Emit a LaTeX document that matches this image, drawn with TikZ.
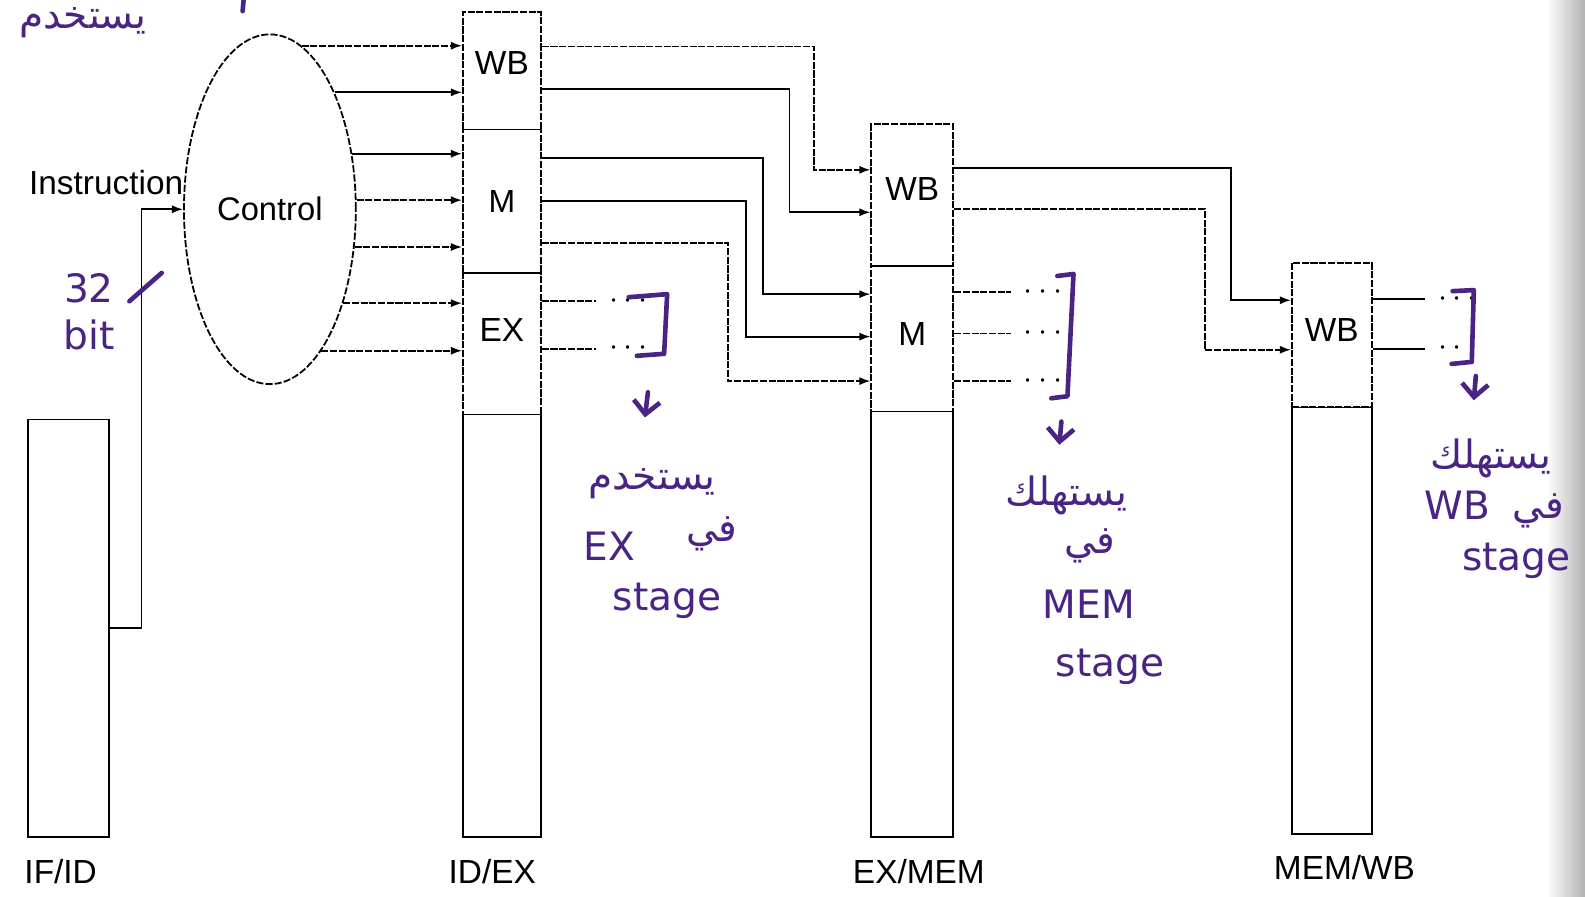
\documentclass[tikz,border=0pt]{standalone}
\usepackage{fontspec}
\setmainfont{Liberation Sans}
\newfontfamily\arabicfont[Script=Arabic]{DejaVu Sans}
\newfontfamily\handfont{DejaVu Sans}
\TeXXeTstate=1
\usepackage{xcolor}
\definecolor{inkPurple}{HTML}{4A2485}
\usetikzlibrary{shapes.geometric,arrows.meta}

\tikzset{
  regPart/.style={draw, line width=0.5pt, inner sep=0pt, font=\fontsize{9}{10}\selectfont},
  regFaint/.style={regPart, dash pattern=on 2pt off 0.45pt},
  ctrlShape/.style={ellipse, draw, line width=0.5pt, dash pattern=on 2pt off 0.6pt,
    minimum width=17mm, minimum height=34.6mm, inner sep=0pt, font=\fontsize{9.2}{10}\selectfont},
  wireSolid/.style={line width=0.5pt},
  wireFaint/.style={line width=0.5pt, dash pattern=on 2pt off 0.45pt},
  sigTip/.style={-{Latex[length=1.1mm,width=0.8mm]}},
  dotsTail/.style={anchor=west, inner sep=1.2mm, font=\fontsize{9}{10}\selectfont},
  regName/.style={font=\fontsize{9.4}{10}\selectfont},
  inkPen/.style={draw=inkPurple, line width=1.3pt, line cap=round, line join=round},
  handText/.style={text=inkPurple, inner sep=0pt, font=\handfont\fontsize{11}{12}\selectfont},
  handArabic/.style={text=inkPurple, inner sep=0pt, font=\arabicfont\fontsize{11}{12}\selectfont}
}

\begin{document}
\begin{tikzpicture}[x=0.1mm, y=-0.1mm]
  \fill[white] (0,0) rectangle (1568,887);
  \useasboundingbox (0,0) rectangle (1568,887);
  \shade[left color=white, right color=black!30] (1530,0) rectangle (1568,887);

  % pipeline registers
  \node[regPart, minimum width=8mm, minimum height=41.3mm] (ifid) at (68,621.5) {};
  \node[regFaint, minimum width=7.7mm, minimum height=11.6mm,
        label={[regName,yshift=0.8mm]center:WB}] (idexWB) at (496.5,70) {};
  \node[regFaint, minimum width=7.7mm, minimum height=14.2mm] (idexM) at (496.5,199) {M};
  \node[regFaint, minimum width=7.7mm, minimum height=14mm,
        label={[regName,yshift=1.4mm]center:EX}] (idexEX) at (496.5,340) {};
  \node[regPart, minimum width=7.7mm, minimum height=41.8mm] (idexLow) at (496.5,619) {};
  \node[regFaint, minimum width=8.1mm, minimum height=14mm,
        label={[regName,yshift=0.6mm]center:WB}] (exmemWB) at (902.5,193) {};
  \node[regFaint, minimum width=8.1mm, minimum height=14.4mm,
        label={[regName,yshift=0.5mm]center:M}] (exmemM) at (902.5,335) {};
  \node[regPart, minimum width=8.1mm, minimum height=42.1mm] (exmemLow) at (902.5,617.5) {};
  \node[regFaint, minimum width=7.9mm, minimum height=14.3mm,
        label={[regName,yshift=0.5mm]center:WB}] (memwbWB) at (1317.5,331.5) {};
  \node[regPart, minimum width=7.9mm, minimum height=42.2mm] (memwbLow) at (1317.5,614) {};

  \node[regName] (ifidName) at (60,862) {IF/ID};
  \node[regName] (idexName) at (487,862) {ID/EX};
  \node[regName] (exmemName) at (909,862) {EX/MEM};
  \node[regName] (memwbName) at (1330,858) {MEM/WB};

  % control unit
  \node[ctrlShape] (ctrl) at (267,207) {Control};
  \node[regName] (instrLbl) at (105,181) {Instruction};
  \draw[wireSolid, sigTip] (ifid.east |- 0,621) -- (140,621) |- (ctrl.west);

  \foreach \ang/\sty in {79.6/wireFaint, 61.5/wireSolid, 34.3/wireSolid, 6.7/wireFaint,
                         336.6/wireFaint, 308/wireFaint, 290.4/wireFaint}
    \draw[\sty, sigTip] (ctrl.\ang) -- (ctrl.\ang -| idexWB.west);

  % ID/EX -> EX/MEM
  \draw[wireFaint, sigTip] (idexWB.east |- 0,46) -| (805,168) -- (exmemWB.west |- 0,168);
  \draw[wireSolid, sigTip] (idexWB.east |- 0,88) -| (781,210) -- (exmemWB.west |- 0,210);
  \draw[wireSolid, sigTip] (idexM.east |- 0,156) -| (755,291) -- (exmemM.west |- 0,291);
  \draw[wireSolid, sigTip] (idexM.east |- 0,199) -| (738,333) -- (exmemM.west |- 0,333);
  \draw[wireFaint, sigTip] (idexM.east |- 0,240) -| (720,377) -- (exmemM.west |- 0,377);
  \foreach \yy in {298,345}
    \draw[wireFaint] (idexEX.east |- 0,\yy) -- (590,\yy) node[dotsTail] {$\cdots$};

  % EX/MEM -> MEM/WB
  \draw[wireSolid, sigTip] (exmemWB.east |- 0,166) -| (1218,297) -- (memwbWB.west |- 0,297);
  \draw[wireFaint, sigTip] (exmemWB.east |- 0,207) -| (1192,346) -- (memwbWB.west |- 0,346);
  \foreach \yy in {289,330,377}
    \draw[wireFaint] (exmemM.east |- 0,\yy) -- (1000,\yy) node[dotsTail] {$\cdots$};
  \foreach \yy in {296,345}
    \draw[wireSolid] (memwbWB.east |- 0,\yy) -- (1410,\yy) node[dotsTail] {$\cdots$};

  % handwritten notes
  \node[handArabic] (noteTop) at (82,22) {\beginR يستخدم\endR};
  \draw[inkPen] (241,0) -- (240,11);
  \draw[inkPen] (128,298) -- (160,270);
  \node[handText] (bits32) at (88,285) {32};
  \node[handText] (bitsWord) at (88,331) {bit};

  \draw[inkPen] (622,294) -- (660,291) -- (657,350) -- (630,352);
  \draw[inkPen, -{Straight Barb[length=1.3mm]}] (641,388) -- (638,413);
  \node[handArabic] (noteEx1) at (645,478) {\beginR يستخدم\endR};
  \node[handArabic] (noteEx2) at (704,528) {\beginR في\endR};
  \node[handText] (noteEx3) at (603,540) {EX};
  \node[handText] (noteEx4) at (660,594) {stage};

  \draw[inkPen] (1046,273) -- (1062,271) -- (1056,392) -- (1040,394);
  \draw[inkPen, -{Straight Barb[length=1.3mm]}] (1050,417) -- (1048,440);
  \node[handArabic] (noteMem1) at (1055,490) {\beginR يستهلك\endR};
  \node[handArabic] (noteMem2) at (1078,540) {\beginR في\endR};
  \node[handText] (noteMem3) at (1077,598) {MEM};
  \node[handText] (noteMem4) at (1098,660) {stage};

  \draw[inkPen] (1437,288) -- (1458,287) -- (1456,358) -- (1436,360);
  \draw[inkPen, -{Straight Barb[length=1.3mm]}] (1460,372) -- (1458,396);
  \node[handArabic] (noteWb1) at (1475,453) {\beginR يستهلك\endR};
  \node[handArabic] (noteWb2) at (1522,505) {\beginR في\endR};
  \node[handText] (noteWb3) at (1442,500) {WB};
  \node[handText] (noteWb4) at (1500,555) {stage};
\end{tikzpicture}
\end{document}
